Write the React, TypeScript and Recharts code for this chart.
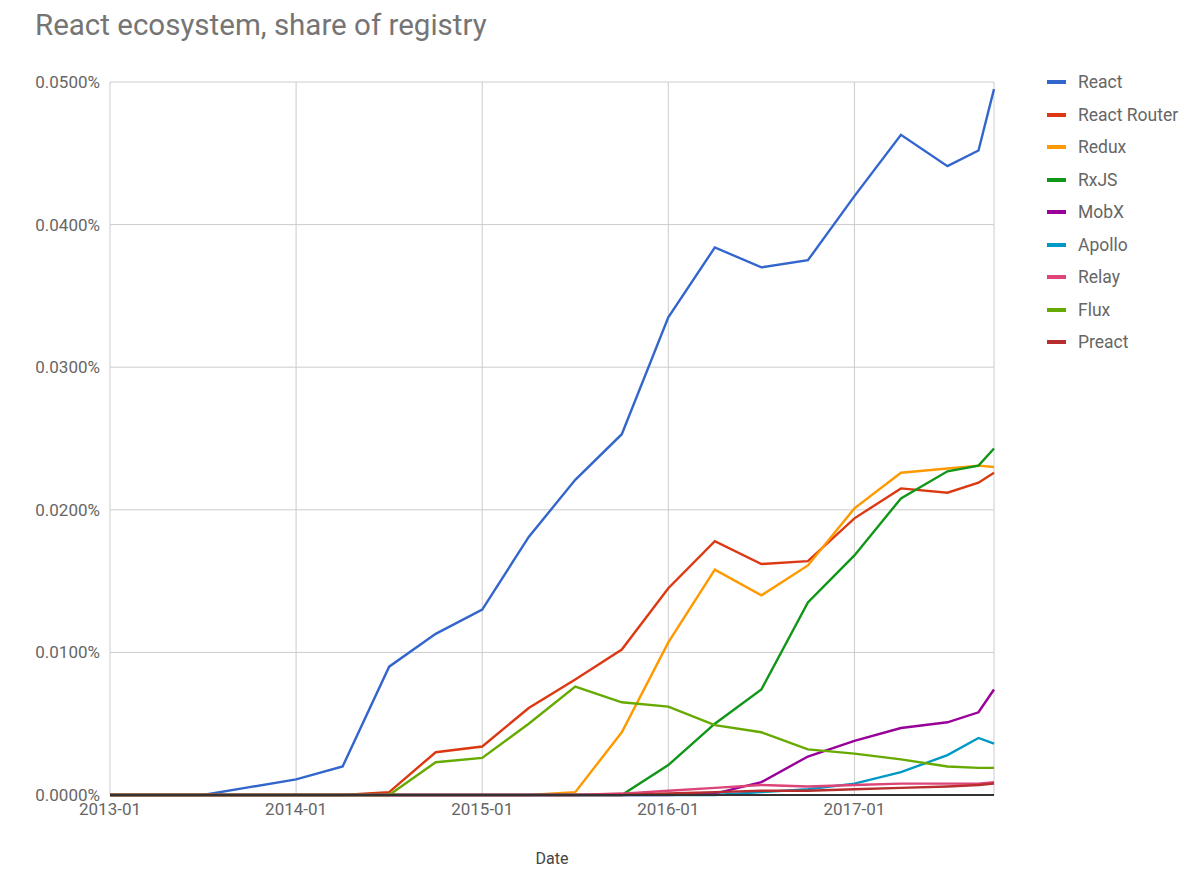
import React from 'react';
import { LineChart, Line, XAxis, YAxis, CartesianGrid } from 'recharts';

// quarterly snapshots, with two extra points at the end of 2017
const dates = [
    '2013-01', '2013-04', '2013-07', '2013-10',
    '2014-01', '2014-04', '2014-07', '2014-10',
    '2015-01', '2015-04', '2015-07', '2015-10',
    '2016-01', '2016-04', '2016-07', '2016-10',
    '2017-01', '2017-04', '2017-07', '2017-09', '2017-10',
];

// share of registry, in percent
const react = [0, 0, 0, 0.00055, 0.0011, 0.002, 0.009, 0.0113, 0.013, 0.0181, 0.0221, 0.0253, 0.0335, 0.0384, 0.037, 0.0375, 0.042, 0.0463, 0.0441, 0.0452, 0.0495];
const reactRouter = [0, 0, 0, 0, 0, 0, 0.0002, 0.003, 0.0034, 0.0061, 0.0081, 0.0102, 0.0145, 0.0178, 0.0162, 0.0164, 0.0194, 0.0215, 0.0212, 0.0219, 0.0226];
const redux = [0, 0, 0, 0, 0, 0, 0, 0, 0, 0, 0.0002, 0.0044, 0.0107, 0.0158, 0.014, 0.0161, 0.0201, 0.0226, 0.0229, 0.0231, 0.023];
const rxjs = [0, 0, 0, 0, 0, 0, 0, 0, 0, 0, 0, 0, 0.0021, 0.005, 0.0074, 0.0135, 0.0168, 0.0208, 0.0227, 0.0231, 0.0243];
const mobx = [0, 0, 0, 0, 0, 0, 0, 0, 0, 0, 0, 0, 0, 0.0001, 0.0009, 0.0027, 0.0038, 0.0047, 0.0051, 0.0058, 0.0074];
const apollo = [0, 0, 0, 0, 0, 0, 0, 0, 0, 0, 0, 0, 0, 0, 0.0002, 0.0004, 0.0008, 0.0016, 0.0028, 0.004, 0.0036];
const relay = [0, 0, 0, 0, 0, 0, 0, 0, 0, 0, 0, 0.0001, 0.0003, 0.0005, 0.0007, 0.0006, 0.0007, 0.0008, 0.0008, 0.0008, 0.0009];
const flux = [0, 0, 0, 0, 0, 0, 0, 0.0023, 0.0026, 0.005, 0.0076, 0.0065, 0.0062, 0.0049, 0.0044, 0.0032, 0.0029, 0.0025, 0.002, 0.0019, 0.0019];
const preact = [0, 0, 0, 0, 0, 0, 0, 0, 0, 0, 0, 0, 0.0001, 0.0002, 0.0003, 0.0003, 0.0004, 0.0005, 0.0006, 0.0007, 0.0008];

const yTicks = [0, 0.01, 0.02, 0.03, 0.04, 0.05];
const xTicks = ['2013-01', '2014-01', '2015-01', '2016-01', '2017-01'];

const series = [
    { name: 'React', values: react, color: '#3366cc' },
    { name: 'React Router', values: reactRouter, color: '#dc3912' },
    { name: 'Redux', values: redux, color: '#ff9900' },
    { name: 'RxJS', values: rxjs, color: '#109618' },
    { name: 'MobX', values: mobx, color: '#990099' },
    { name: 'Apollo', values: apollo, color: '#0099c6' },
    { name: 'Relay', values: relay, color: '#dd4477' },
    { name: 'Flux', values: flux, color: '#66aa00' },
    { name: 'Preact', values: preact, color: '#b82e2e' },
];

// "2016-04" -> 2016.25
const toYear = (d: string) => {
    const [y, m] = d.split('-').map(Number);
    return y + (m - 1) / 12;
};

const data = dates.map((d, i) => {
    const row: Record<string, number> = { t: toYear(d) };
    series.forEach(s => { row[s.name] = s.values[i]; });
    return row;
});

const FONT = 'Roboto, "Noto Sans", Arial, sans-serif';

const App: React.FC = () => {
    return (
        <div style={{ position: 'relative', width: 1200, height: 886, margin: -8, fontFamily: FONT, background: '#fff' }}>
            <div style={{ position: 'absolute', left: 35, top: 11, fontSize: 29.5, lineHeight: '29.5px', color: '#757575' }}>
                React ecosystem, share of registry
            </div>

            <LineChart width={1200} height={886} data={data} margin={{ top: 82, right: 206, bottom: 22, left: 0 }}>
                <CartesianGrid stroke="#cccccc" strokeWidth={1} />
                <XAxis
                    dataKey="t"
                    type="number"
                    domain={[toYear('2013-01'), toYear('2017-10')]}
                    ticks={xTicks.map(toYear)}
                    tickFormatter={(v: number) => xTicks.find(x => toYear(x) === v) || ''}
                    height={69}
                    axisLine={{ stroke: '#333333', strokeWidth: 2 }}
                    tickLine={false}
                    tick={{ fill: '#666666', fontSize: 17, fontFamily: FONT }}
                    label={{ value: 'Date', position: 'insideBottom', offset: 0, fill: '#444444', fontSize: 16, fontFamily: FONT }}
                />
                <YAxis
                    type="number"
                    domain={[0, 0.05]}
                    ticks={yTicks}
                    width={110}
                    axisLine={false}
                    tickLine={false}
                    tickMargin={4}
                    tickFormatter={(v: number) => v.toFixed(4) + '%'}
                    tick={{ fill: '#666666', fontSize: 17, fontFamily: FONT }}
                />
                {series.map(s => (
                    <Line
                        key={s.name}
                        type="linear"
                        dataKey={s.name}
                        stroke={s.color}
                        strokeWidth={2.4}
                        dot={false}
                        isAnimationActive={false}
                    />
                ))}
            </LineChart>

            {/* legend */}
            <div style={{ position: 'absolute', left: 1047, top: 66 }}>
                {series.map(s => (
                    <div key={s.name} style={{ display: 'flex', alignItems: 'center', height: 32.5 }}>
                        <div style={{ width: 19, height: 4, background: s.color, marginRight: 12 }} />
                        <span style={{ fontSize: 17.5, color: '#666666' }}>{s.name}</span>
                    </div>
                ))}
            </div>
        </div>
    );
};

export default App;
